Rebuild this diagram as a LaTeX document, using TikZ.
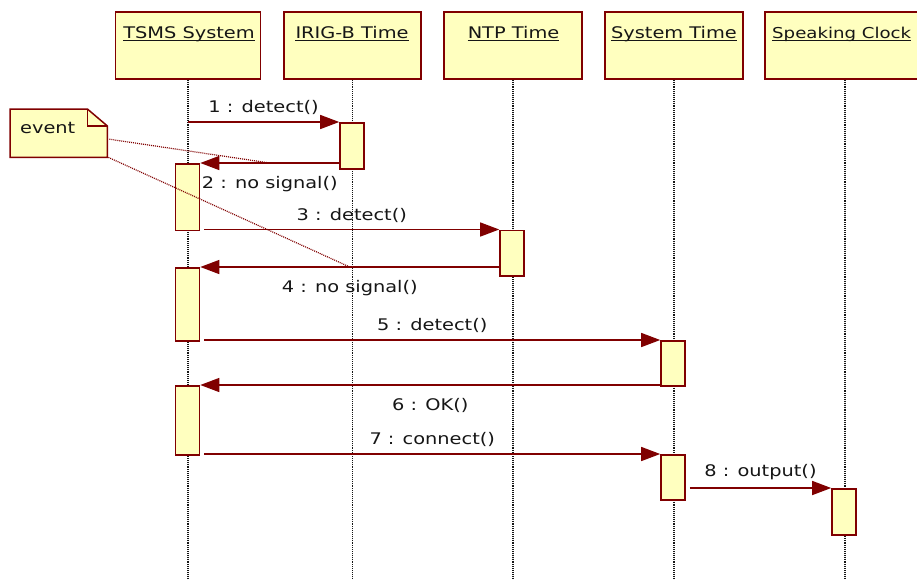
\documentclass[tikz,border=0pt]{standalone}
\usepackage{fontspec}
\setmainfont{DejaVu Sans}[FakeStretch=1.21]
\usetikzlibrary{arrows.meta}
\definecolor{umlred}{HTML}{800000}
\definecolor{umlfill}{HTML}{FFFFBF}
\definecolor{ink}{HTML}{161616}

\begin{document}
\begin{tikzpicture}[x=1pt,y=-1pt,
  font=\fontsize{16}{19}\selectfont, text=ink,
  objbox/.style={draw=umlred, fill=umlfill, line width=1.8pt, inner sep=0,
                 minimum height=67pt, anchor=north},
  objtitle/.style={inner sep=0, anchor=base},
  uline/.style={draw=ink, line width=1.1pt},
  lifeline/.style={draw=ink, line width=1.3pt, dash pattern=on 1pt off 0.9pt},
  act/.style={draw=umlred, fill=umlfill, line width=1.6pt, inner sep=0,
              minimum width=24pt, anchor=north},
  msg/.style={draw=umlred, line width=1.4pt, -{Triangle[length=19pt,width=14pt]}},
  lab/.style={inner sep=0},
  notelink/.style={draw=umlred, line width=1.2pt, dash pattern=on 1pt off 1pt},
  notebox/.style={draw=umlred, fill=umlfill, line width=1.5pt, line join=miter}
]
\useasboundingbox (0,0) rectangle (917,582);
\clip (0,0) rectangle (917,582);

% object heads
\node[objbox, minimum width=145pt] (hTSMS) at (188,11) {};
\node[objbox, minimum width=137pt] (hIRIG) at (352.5,11) {};
\node[objbox, minimum width=138pt] (hNTP)  at (513,11) {};
\node[objbox, minimum width=138pt] (hSYS)  at (674,11) {};
\node[objbox, minimum width=160pt] (hSPK)  at (845,11) {};

\node[objtitle] (tTSMS) at (189,38) {TSMS System};
\node[objtitle] (tIRIG) at (352,38) {IRIG-B Time};
\node[objtitle] (tNTP)  at (513.5,38) {NTP Time};
\node[objtitle] (tSYS)  at (674,38) {System Time};
\node[objtitle, anchor=base west, font=\fontsize{15}{18}\selectfont] (tSPK) at (772,38) {Speaking Clock};
\foreach \t in {tTSMS,tIRIG,tNTP,tSYS,tSPK}
  \draw[uline] ([yshift=-2.2pt]\t.base west) -- ([yshift=-2.2pt]\t.base east);

% lifelines
\coordinate (bottom) at (0,578);
\foreach \h in {hTSMS,hIRIG,hNTP,hSYS,hSPK}
  \draw[lifeline] (\h.south) -- (\h.south |- bottom);

% activations
\node[act, minimum height=46pt]   (irig) at (352,122) {};
\node[act, minimum height=66.5pt] (t1)   at (187.5,163) {};
\node[act, minimum height=45.5pt] (ntp)  at (512,229.5) {};
\node[act, minimum height=73pt]   (t2)   at (187.5,267) {};
\node[act, minimum height=45pt]   (s1)   at (673,340) {};
\node[act, minimum height=69pt]   (t3)   at (187.5,385) {};
\node[act, minimum height=45pt]   (s2)   at (673,454) {};
\node[act, minimum height=46pt]   (sp)   at (844,488) {};

% messages (all horizontal)
\coordinate (m1s) at (188,122);
\draw[msg] (m1s |- irig.north) -- node[lab, midway, above=7pt] {1 : detect()} (irig.north west);
\draw[msg] (irig.west |- t1.north) -- coordinate[midway] (m2mid)
      node[lab, midway, below=12.5pt] {2 : no signal()} (t1.north east);
\draw[msg] ([xshift=4pt]t1.east |- ntp.north) -- node[lab, midway, above=6.5pt] {3 : detect()} (ntp.north west);
\draw[msg] (ntp.west |- t2.north) -- coordinate[midway] (m4mid)
      node[lab, midway, below=12.5pt] {4 : no signal()} (t2.north east);
\draw[msg] ([xshift=4pt]t2.east |- s1.north) -- node[lab, midway, above=6.5pt] {5 : detect()} (s1.north west);
\draw[msg] (s1.west |- t3.north) -- node[lab, midway, below=12.5pt] {6 : OK()} (t3.north east);
\draw[msg] ([xshift=4pt]t3.east |- s2.north) -- node[lab, midway, above=6.5pt] {7 : connect()} (s2.north west);
\draw[msg] ([xshift=4pt]s2.east |- sp.north) -- node[lab, midway, above=7pt] {8 : output()} (sp.north west);

% note
\node[inner sep=0, minimum width=97pt, minimum height=48pt, anchor=north west] (note) at (10,109) {};
\draw[notebox] (note.north west) -- ([xshift=-20pt]note.north east)
  -- ([yshift=-17pt]note.north east) -- (note.south east) -- (note.south west) -- cycle;
\draw[notebox, fill=none] ([xshift=-20pt]note.north east) -- ([xshift=-20pt,yshift=-17pt]note.north east)
  -- ([yshift=-17pt]note.north east);
\node[inner sep=0, anchor=base west] (notetext) at (20,133) {event};
\draw[notelink] ([xshift=2pt,yshift=-6pt]note.east) -- (m2mid);
\draw[notelink] ([xshift=1pt]note.south east) -- (m4mid);
\end{tikzpicture}
\end{document}
